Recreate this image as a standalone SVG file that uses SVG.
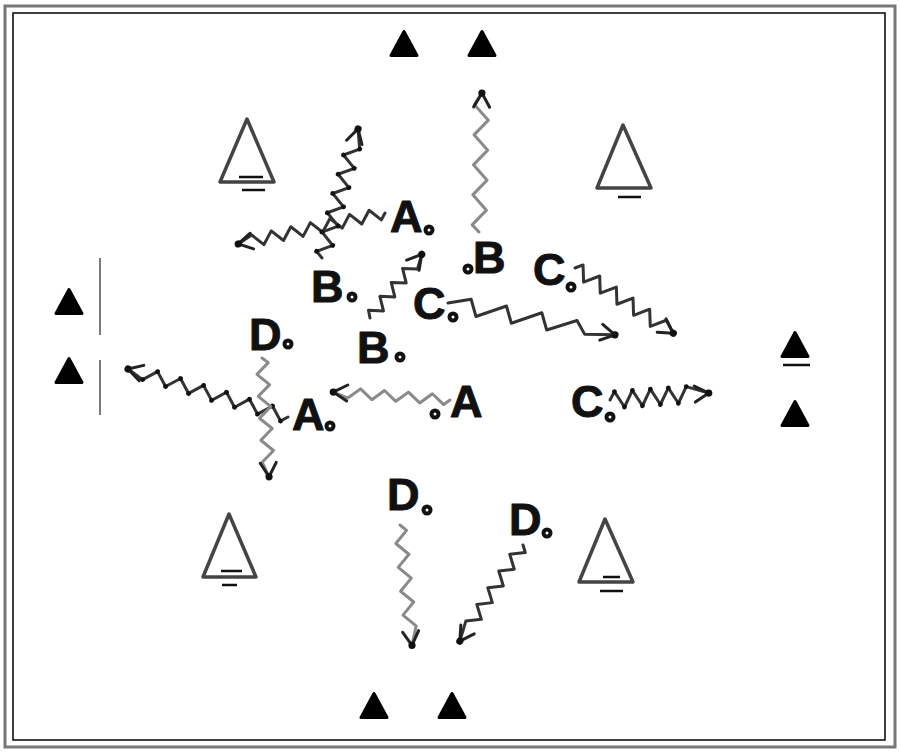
<svg xmlns="http://www.w3.org/2000/svg" xmlns:xlink="http://www.w3.org/1999/xlink" width="900" height="752" viewBox="0 0 900 752">
<style>
.lbl{font-family:"Liberation Sans",Arial,sans-serif;font-weight:bold;font-size:45px;fill:#111;stroke:#111;stroke-width:1;stroke-linejoin:round}
.pm{fill:#fff;stroke:#111;stroke-width:4}
.zd{fill:none;stroke:#333;stroke-width:3;stroke-linejoin:round;stroke-linecap:round}
.zg{fill:none;stroke:#8a8a8a;stroke-width:3;stroke-linejoin:round;stroke-linecap:round}
.dots{marker-mid:url(#dot)}
.cone{fill:#000;stroke:#000;stroke-width:3;stroke-linejoin:round}
.tri{fill:none;stroke:#444;stroke-width:3.5;stroke-linejoin:round}
.bar{stroke:#111;stroke-width:2.5}
.art{stroke:#222;stroke-width:1.2}
</style>
<defs>
<marker id="dot" markerWidth="6" markerHeight="6" refX="3" refY="3" markerUnits="userSpaceOnUse"><circle cx="3" cy="3" r="2.4" fill="#111"/></marker>
<g id="ah"><path d="M-14 -8 L0 0 L-14 8" fill="none" stroke="#222" stroke-width="3" stroke-linecap="round" stroke-linejoin="round"/><circle r="3.6" fill="#111"/></g>
<path id="cone" class="cone" d="M0 -12.5 L13 11.5 L-13 11.5 Z"/>
</defs>
<rect width="900" height="752" fill="#fff"/>
<g id="frame">
<rect x="5" y="6" width="890" height="741" fill="none" stroke="#777" stroke-width="3"/>
<rect x="13" y="13" width="872" height="727" fill="none" stroke="#000" stroke-width="1.5"/>
<line class="art" x1="100" y1="258" x2="100" y2="335"/>
<line class="art" x1="100" y1="360" x2="100" y2="415"/>
</g>
<g id="cones">
<use href="#cone" x="404" y="44"/>
<use href="#cone" x="482" y="44"/>
<use href="#cone" x="69" y="302"/>
<use href="#cone" x="69" y="371"/>
<use href="#cone" x="795" y="345"/>
<use href="#cone" x="795" y="414"/>
<use href="#cone" x="374" y="706"/>
<use href="#cone" x="452" y="706"/>
<line class="bar" x1="783" y1="365" x2="810" y2="365"/>
</g>
<g id="triangles">
<g id="tri-tl"><path class="tri" d="M247 119 L274 182 L220 182 Z"/><line class="bar" x1="239" y1="177" x2="263" y2="177"/><line class="bar" x1="242" y1="190" x2="265" y2="190"/></g>
<g id="tri-tr"><path class="tri" d="M623 125 L651 188 L597 188 Z"/><line class="bar" x1="618" y1="197" x2="641" y2="197"/></g>
<g id="tri-bl"><path class="tri" d="M229 514 L256 577 L203 577 Z"/><line class="bar" x1="221" y1="571" x2="242" y2="571"/><line class="bar" x1="222" y1="585" x2="237" y2="585"/></g>
<g id="tri-br"><path class="tri" d="M605 519 L633 582 L579 582 Z"/><line class="bar" x1="603" y1="577" x2="620" y2="577"/><line class="bar" x1="600" y1="591" x2="623" y2="591"/></g>
</g>
<g id="connectors">
<g transform="translate(385,213) rotate(168.1)"><path class="zd" d="M0 0 l5 -6 l10 12 l10 -12 l10 12 l10 -12 l10 12 l10 -12 l10 12 l10 -12 l10 12 l10 -12 l10 12 l10 -12 l10 12 L150 0"/><use href="#ah" x="150"/></g>
<g transform="translate(322,258) rotate(-74.4)"><path class="zd dots" d="M0 0 l5 -7 l10 14 l10 -14 l10 14 l10 -14 l10 14 l10 -14 l10 14 l10 -14 l10 14 l10 -14 l10 14 L134 0"/><use href="#ah" x="134"/></g>
<g transform="translate(479,232) rotate(-88.8)"><path class="zg" d="M0 0 l7 -7 l15 14 l15 -14 l15 14 l15 -14 l15 14 l15 -14 l15 14 l15 -14 L139 0"/><use href="#ah" x="139"/></g>
<g transform="translate(448,303) rotate(10.8)"><path class="zd" d="M0 0 L22 -8 L30 8 L58 -8 L66 8 L94 -8 L102 8 L130 -7 L140 5 L170 0"/><use href="#ah" x="170"/></g>
<g transform="translate(575,268) rotate(33.6)"><path class="zd" d="M0 0 l5 -7 l10 14 l10 -14 l10 14 l10 -14 l10 14 l10 -14 l10 14 l10 -14 l10 14 l10 -14 L118 0"/><use href="#ah" x="118"/></g>
<g transform="translate(370,318) rotate(-50.9)"><path class="zd" d="M0 0 l5 -6 l9 12 l9 -12 l9 12 l9 -12 l9 12 l9 -12 l9 12 L82 0"/><use href="#ah" x="82"/></g>
<g transform="translate(450,400) rotate(183.9)"><path class="zg" d="M0 0 l6 -5 l12 10 l12 -10 l12 10 l12 -10 l12 10 l12 -10 l12 10 l12 -10 L117 0"/><use href="#ah" x="117"/></g>
<g transform="translate(288,417) rotate(196.7)"><path class="zd dots" d="M0 0 l6 -6 l12 12 l12 -12 l12 12 l12 -12 l12 12 l12 -12 l12 12 l12 -12 l12 12 l12 -12 l12 12 l12 -12 L167 0"/><use href="#ah" x="167"/></g>
<g transform="translate(262,358) rotate(86.6)"><path class="zg" d="M0 0 l5 -6 l11 12 l11 -12 l11 12 l11 -12 l11 12 l11 -12 l11 12 l11 -12 l11 12 L119 0"/><use href="#ah" x="119"/></g>
<g transform="translate(400,525) rotate(84.3)"><path class="zg" d="M0 0 l6 -6 l12 12 l12 -12 l12 12 l12 -12 l12 12 l12 -12 l12 12 l12 -12 L121 0"/><use href="#ah" x="121"/></g>
<g transform="translate(523,545) rotate(123.3)"><path class="zd" d="M0 0 l5 -6 l10 12 l10 -12 l10 12 l10 -12 l10 12 l10 -12 l10 12 l10 -12 l10 12 L115 0"/><use href="#ah" x="115"/></g>
<g transform="translate(610,400) rotate(-4)"><path class="zd dots" d="M0 0 l5 -8 l9 16 l9 -16 l9 16 l9 -16 l9 16 l9 -16 l9 16 l9 -16 L99 0"/><use href="#ah" x="99"/></g>
</g>
<g id="player-A1"><text class="lbl" x="390" y="232">A</text><circle class="pm" cx="429" cy="230" r="3.5"/></g>
<g id="player-B1"><text class="lbl" x="311" y="302">B</text><circle class="pm" cx="352" cy="297" r="3.5"/></g>
<g id="player-B2"><circle class="pm" cx="468" cy="269" r="3.5"/><text class="lbl" x="473" y="273">B</text></g>
<g id="player-C2"><text class="lbl" x="533" y="285">C</text><circle class="pm" cx="571" cy="287" r="3.5"/></g>
<g id="player-C1"><text class="lbl" x="413" y="319">C</text><circle class="pm" cx="453" cy="317" r="3.5"/></g>
<g id="player-B3"><text class="lbl" x="357" y="363">B</text><circle class="pm" cx="400" cy="357" r="3.5"/></g>
<g id="player-D1"><text class="lbl" x="249" y="350">D</text><circle class="pm" cx="288" cy="344" r="3.5"/></g>
<g id="player-A2"><text class="lbl" x="292" y="430">A</text><circle class="pm" cx="330" cy="426" r="3.5"/></g>
<g id="player-A3"><circle class="pm" cx="435" cy="414" r="3.5"/><text class="lbl" x="450" y="417">A</text></g>
<g id="player-C3"><text class="lbl" x="571" y="417">C</text><circle class="pm" cx="610" cy="417" r="3.5"/></g>
<g id="player-D2"><text class="lbl" x="387" y="510">D</text><circle class="pm" cx="427" cy="510" r="3.5"/></g>
<g id="player-D3"><text class="lbl" x="509" y="535">D</text><circle class="pm" cx="547" cy="533" r="3.5"/></g>
</svg>
